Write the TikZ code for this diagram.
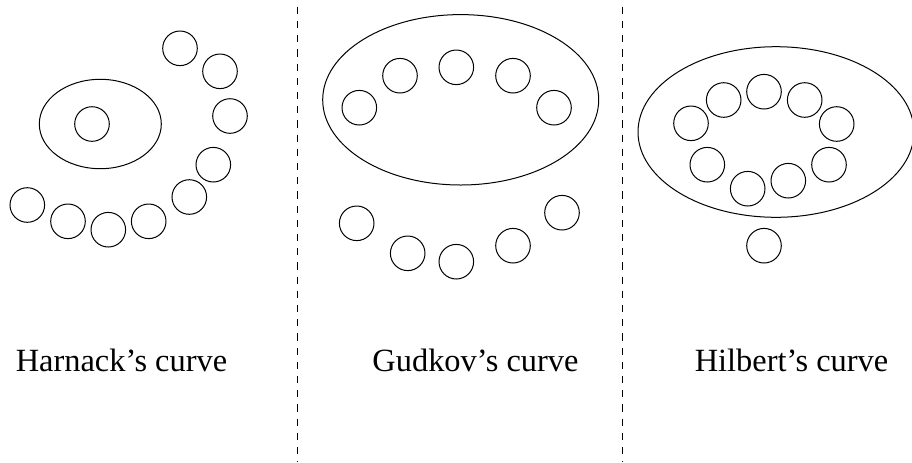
\documentclass[tikz,border=0pt]{standalone}
\usepackage{fontspec}
\setmainfont{Liberation Serif}
\usetikzlibrary{positioning}

\begin{document}
\begin{tikzpicture}[x=0.5pt, y=-0.5pt, line width=0.5pt,
    oval/.style={draw, circle, minimum size=17.3pt, inner sep=0pt},
    outer/.style={draw},
    sep/.style={draw, dash pattern=on 3.6pt off 3.5pt},
    curvename/.style={anchor=base, inner sep=0pt, font=\fontsize{16.2}{19}\selectfont}]
  \useasboundingbox (0,0) rectangle (912,462);
  % Harnack
  \draw[outer] (100.3,124) ellipse [x radius=61, y radius=44.7];
  \node[oval] (h0) at (92,124) {};
  \foreach \p [count=\i] in {(180,48.3),(220,71.3),(230,116),(213.3,164.7),(189.3,197),
      (148.7,221.3),(108.3,229.7),(68,221.3),(27.3,205)}
    \node[oval] (h\i) at \p {};
  \node[curvename] (harnack) at (121.5,371) {Harnack's curve};
  \draw[sep] (297.5,6.7) coordinate (s1top) -- (297.5,462) coordinate (s1bot);
  % Gudkov
  \draw[outer] (460.7,99.8) ellipse [x radius=138, y radius=85.2];
  \foreach \p [count=\i] in {(359.3,107.7),(400,75.7),(456.3,67.3),(513,75.7),(554,107.7)}
    \node[oval] (gi\i) at \p {};
  \foreach \p [count=\i] in {(356.7,223.3),(407.7,253.3),(456.3,261.7),(513,245.7),(562,212.7)}
    \node[oval] (go\i) at \p {};
  \node[curvename] (gudkov) at (475.5,371) {Gudkov's curve};
  \draw[sep] (622,6.7) coordinate (s2top) -- (622,462) coordinate (s2bot);
  % Hilbert
  \draw[outer] (776,132) ellipse [x radius=138, y radius=85.3];
  \foreach \p [count=\i] in {(691,123.3),(723.7,100),(764,91.7),(804.7,100),(836.7,124),
      (829,164.7),(788.3,180.7),(747.7,188.7),(707.3,164.7)}
    \node[oval] (b\i) at \p {};
  \node[oval] (b0) at (764,245.7) {};
  \node[curvename] (hilbert) at (791.5,371) {Hilbert's curve};
\end{tikzpicture}
\end{document}
